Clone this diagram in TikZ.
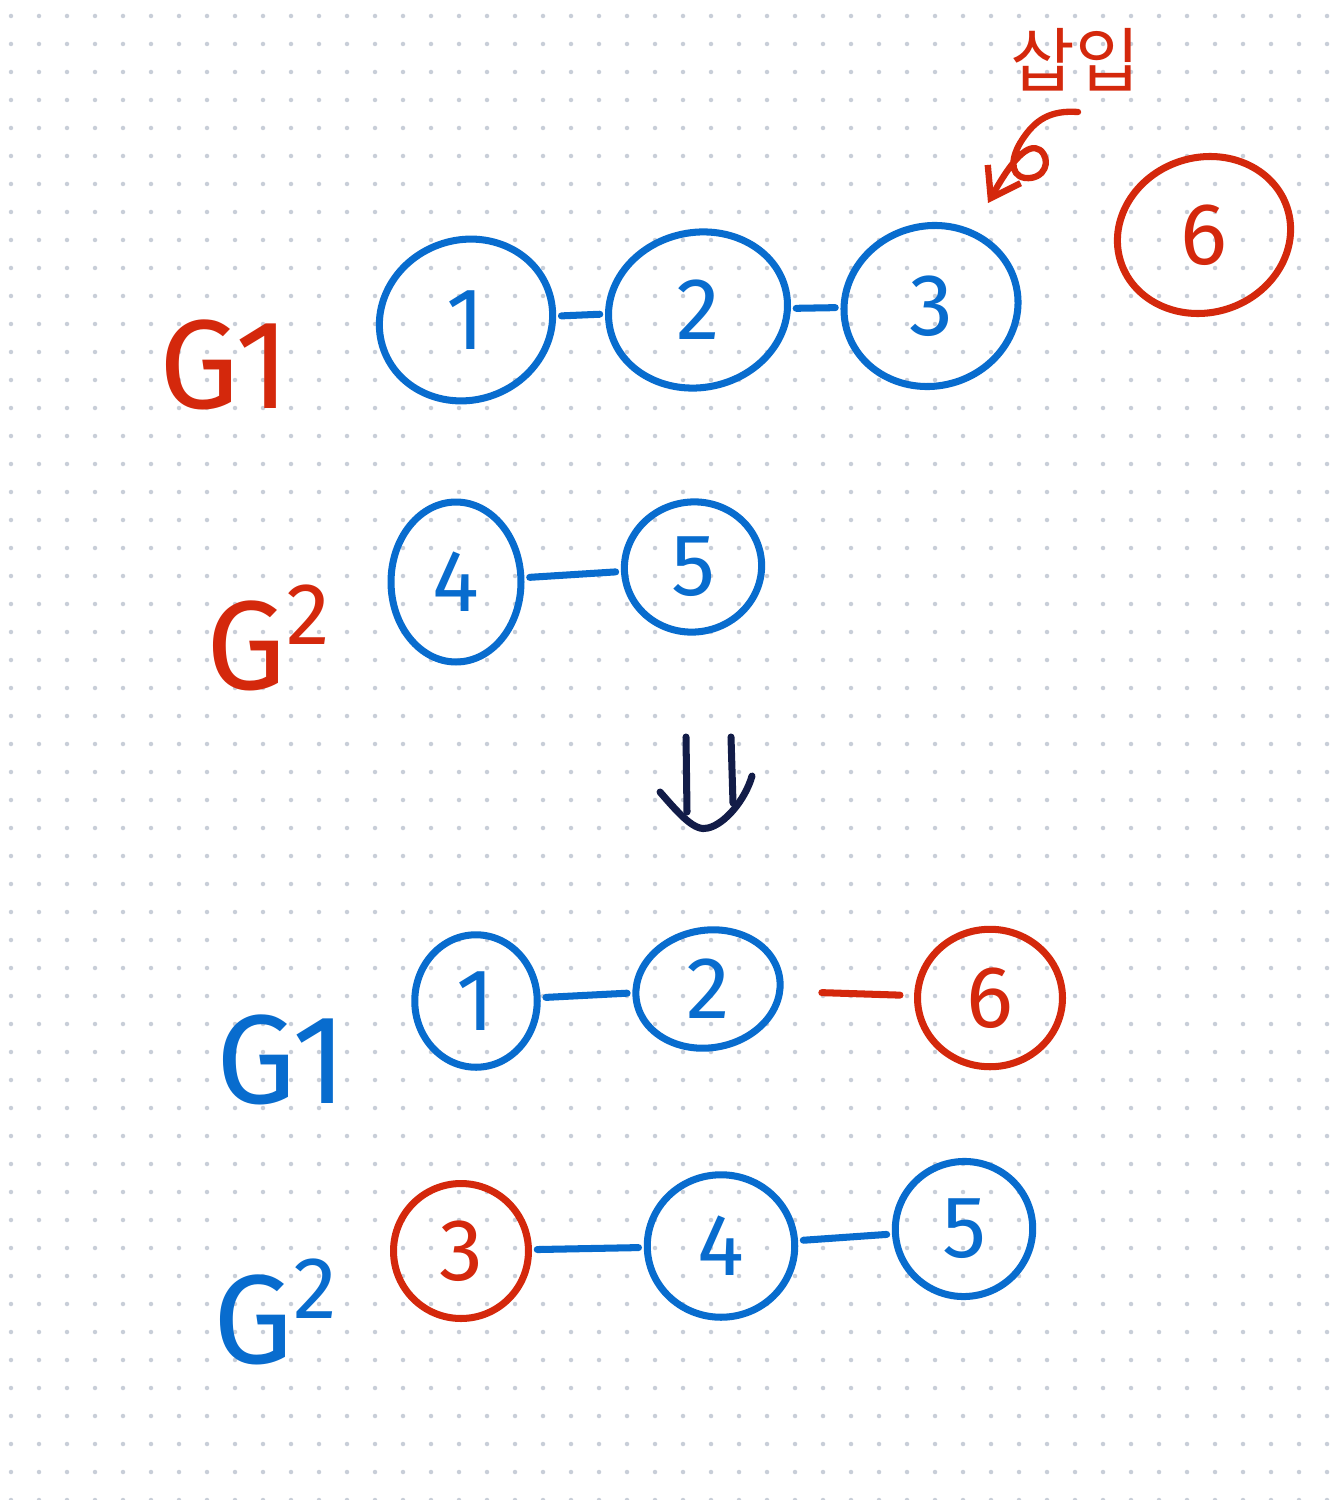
\documentclass[tikz,border=0pt]{standalone}
\usepackage{fontspec}
\setmainfont{Fira Sans}
\newfontfamily\kor{Noto Sans CJK KR}
\usetikzlibrary{shapes.geometric,arrows.meta}
\definecolor{hred}{RGB}{212,40,12}
\definecolor{hblue}{RGB}{8,108,206}
\definecolor{hnavy}{RGB}{18,28,72}
\definecolor{hdot}{RGB}{200,206,216}
\tikzset{
  ring/.style={ellipse, draw, line width=4pt, inner sep=0pt,
    font=\fontsize{50}{52}\selectfont},
  bnode/.style={ring, draw=hblue, text=hblue},
  rnode/.style={ring, draw=hred, text=hred},
  bedge/.style={hblue, line width=4pt, line cap=round, shorten >=3pt, shorten <=3pt},
  redge/.style={hred, line width=4pt, line cap=round, shorten >=3pt, shorten <=3pt},
  glabel/.style={font=\fontsize{72}{74}\selectfont, inner sep=0pt},
}
\begin{document}
\begin{tikzpicture}[x=0.02cm, y=-0.02cm]
\useasboundingbox (0,0) rectangle (1340,1500);
\fill[white] (0,0) rectangle (1340,1500);
\foreach \gx in {11,39,...,1340}
  \foreach \gy in {16,44,...,1500}
    \fill[hdot] (\gx,\gy) circle (0.045cm);

% ---- top: before insertion ----
\node[glabel, text=hred] (g1a) at (225,365) {G1};
\node[bnode, minimum width=3.5cm, minimum height=3.2cm, rotate=20] (a1) at (466,320) {\rotatebox{-20}{1}};
\node[bnode, minimum width=3.6cm, minimum height=3.1cm, rotate=12] (a2) at (698,310) {\rotatebox{-12}{2}};
\node[bnode, minimum width=3.5cm, minimum height=3.2cm, rotate=15] (a3) at (931,306) {\rotatebox{-15}{3}};
\node[rnode, minimum width=3.5cm, minimum height=3.1cm, rotate=18] (a6) at (1204,235) {\rotatebox{-18}{6}};
\draw[bedge] (a1) -- (a2);
\draw[bedge] (a2) -- (a3);

\node[text=hred, font=\kor\fontsize{40}{42}\selectfont, inner sep=0pt] (ins) at (1075,60) {삽입};
\coordinate (instip) at (988,203);
\draw[hred, line width=3.6pt, line cap=round, line join=round,
      -{Straight Barb[length=0.55cm, width=0.75cm]}]
  (1078,112) .. controls (1050,110) and (1035,120) .. (1022,140)
  .. controls (1012,155) and (1008,175) .. (1025,178)
  .. controls (1045,180) and (1052,160) .. (1040,150)
  .. controls (1028,142) and (1012,160) .. (instip);

\node[glabel, text=hred] (g2a) at (268,638) {G\raisebox{0.35em}{\fontsize{50}{52}\selectfont 2}};
\node[bnode, minimum width=2.6cm, minimum height=3.2cm] (a4) at (456,582) {4};
\node[bnode, minimum width=2.75cm, minimum height=2.6cm, rotate=10] (a5) at (693,567) {\rotatebox{-10}{5}};
\draw[bedge] (a4) -- (a5);

% ---- double arrow ----
\draw[hnavy, line width=4pt, line cap=round] (686,737) -- (687,812);
\draw[hnavy, line width=4pt, line cap=round] (731,737) -- (733,803);
\draw[hnavy, line width=4pt, line cap=round]
  (660,792) .. controls (680,815) and (695,832) .. (708,828)
  .. controls (725,824) and (745,800) .. (752,776);

% ---- bottom: after insertion ----
\node[glabel, text=hblue] (g1b) at (282,1060) {G1};
\node[bnode, minimum width=2.45cm, minimum height=2.65cm] (b1) at (476,1001) {1};
\node[bnode, minimum width=2.9cm, minimum height=2.35cm, rotate=10] (b2) at (708,989) {\rotatebox{-10}{2}};
\node[rnode, minimum width=2.9cm, minimum height=2.75cm] (b6) at (990,998) {6};
\draw[bedge] (b1) -- (b2);
\draw[redge, shorten <=22pt, shorten >=8pt] (b2) -- (b6);

\node[glabel, text=hblue] (g2b) at (275,1312) {G\raisebox{0.35em}{\fontsize{50}{52}\selectfont 2}};
\node[rnode, minimum width=2.7cm, minimum height=2.7cm] (b3) at (461,1251) {3};
\node[bnode, minimum width=2.95cm, minimum height=2.85cm] (b4) at (721,1246) {4};
\node[bnode, minimum width=2.75cm, minimum height=2.7cm, rotate=10] (b5) at (964,1229) {\rotatebox{-10}{5}};
\draw[bedge] (b3) -- (b4);
\draw[bedge] (b4) -- (b5);
\end{tikzpicture}
\end{document}
